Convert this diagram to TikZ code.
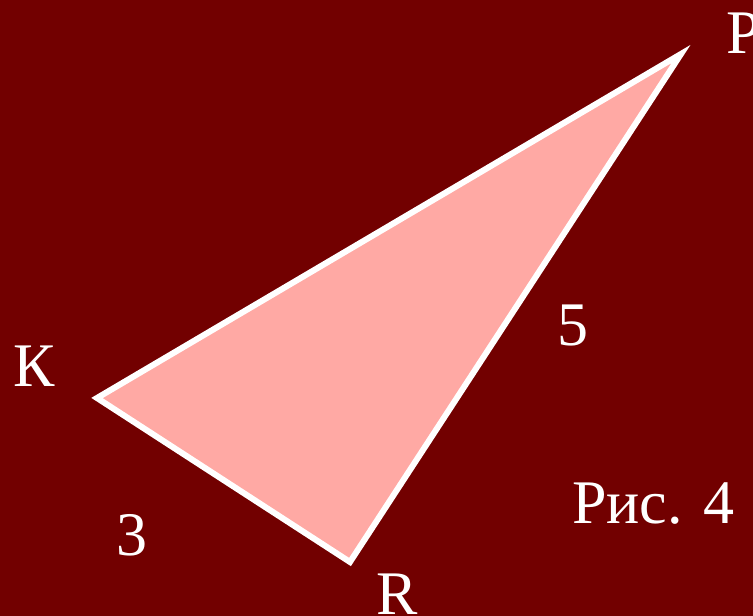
\documentclass[tikz,border=0pt]{standalone}
\usepackage{fontspec}
\setmainfont{Liberation Serif}
\definecolor{bg}{HTML}{720000}
\definecolor{tri}{HTML}{FFA9A4}
\begin{document}
\begin{tikzpicture}[x=1pt,y=1pt,
  lbl/.style={text=white,font=\fontsize{62}{62}\selectfont,anchor=base west,inner sep=0pt}]
\fill[bg] (0,0) rectangle (753,616);
\useasboundingbox (0,0) rectangle (753,616);
\coordinate (K) at (97,218);
\coordinate (P) at (681,562);
\coordinate (R) at (350,54);
\filldraw[fill=tri,draw=white,line width=6pt,line join=miter] (K) -- (P) -- (R) -- cycle;
\node[lbl] (lP) at (726,562) {P};
\node[lbl] (lK) at (13,229) {К};
\node[lbl] (lR) at (376,1) {R};
\node[lbl] (l5) at (557,270) {5};
\node[lbl] (l3) at (116,60) {3};
\node[lbl] (cap) at (572,92) {Рис. 4};
\end{tikzpicture}
\end{document}
